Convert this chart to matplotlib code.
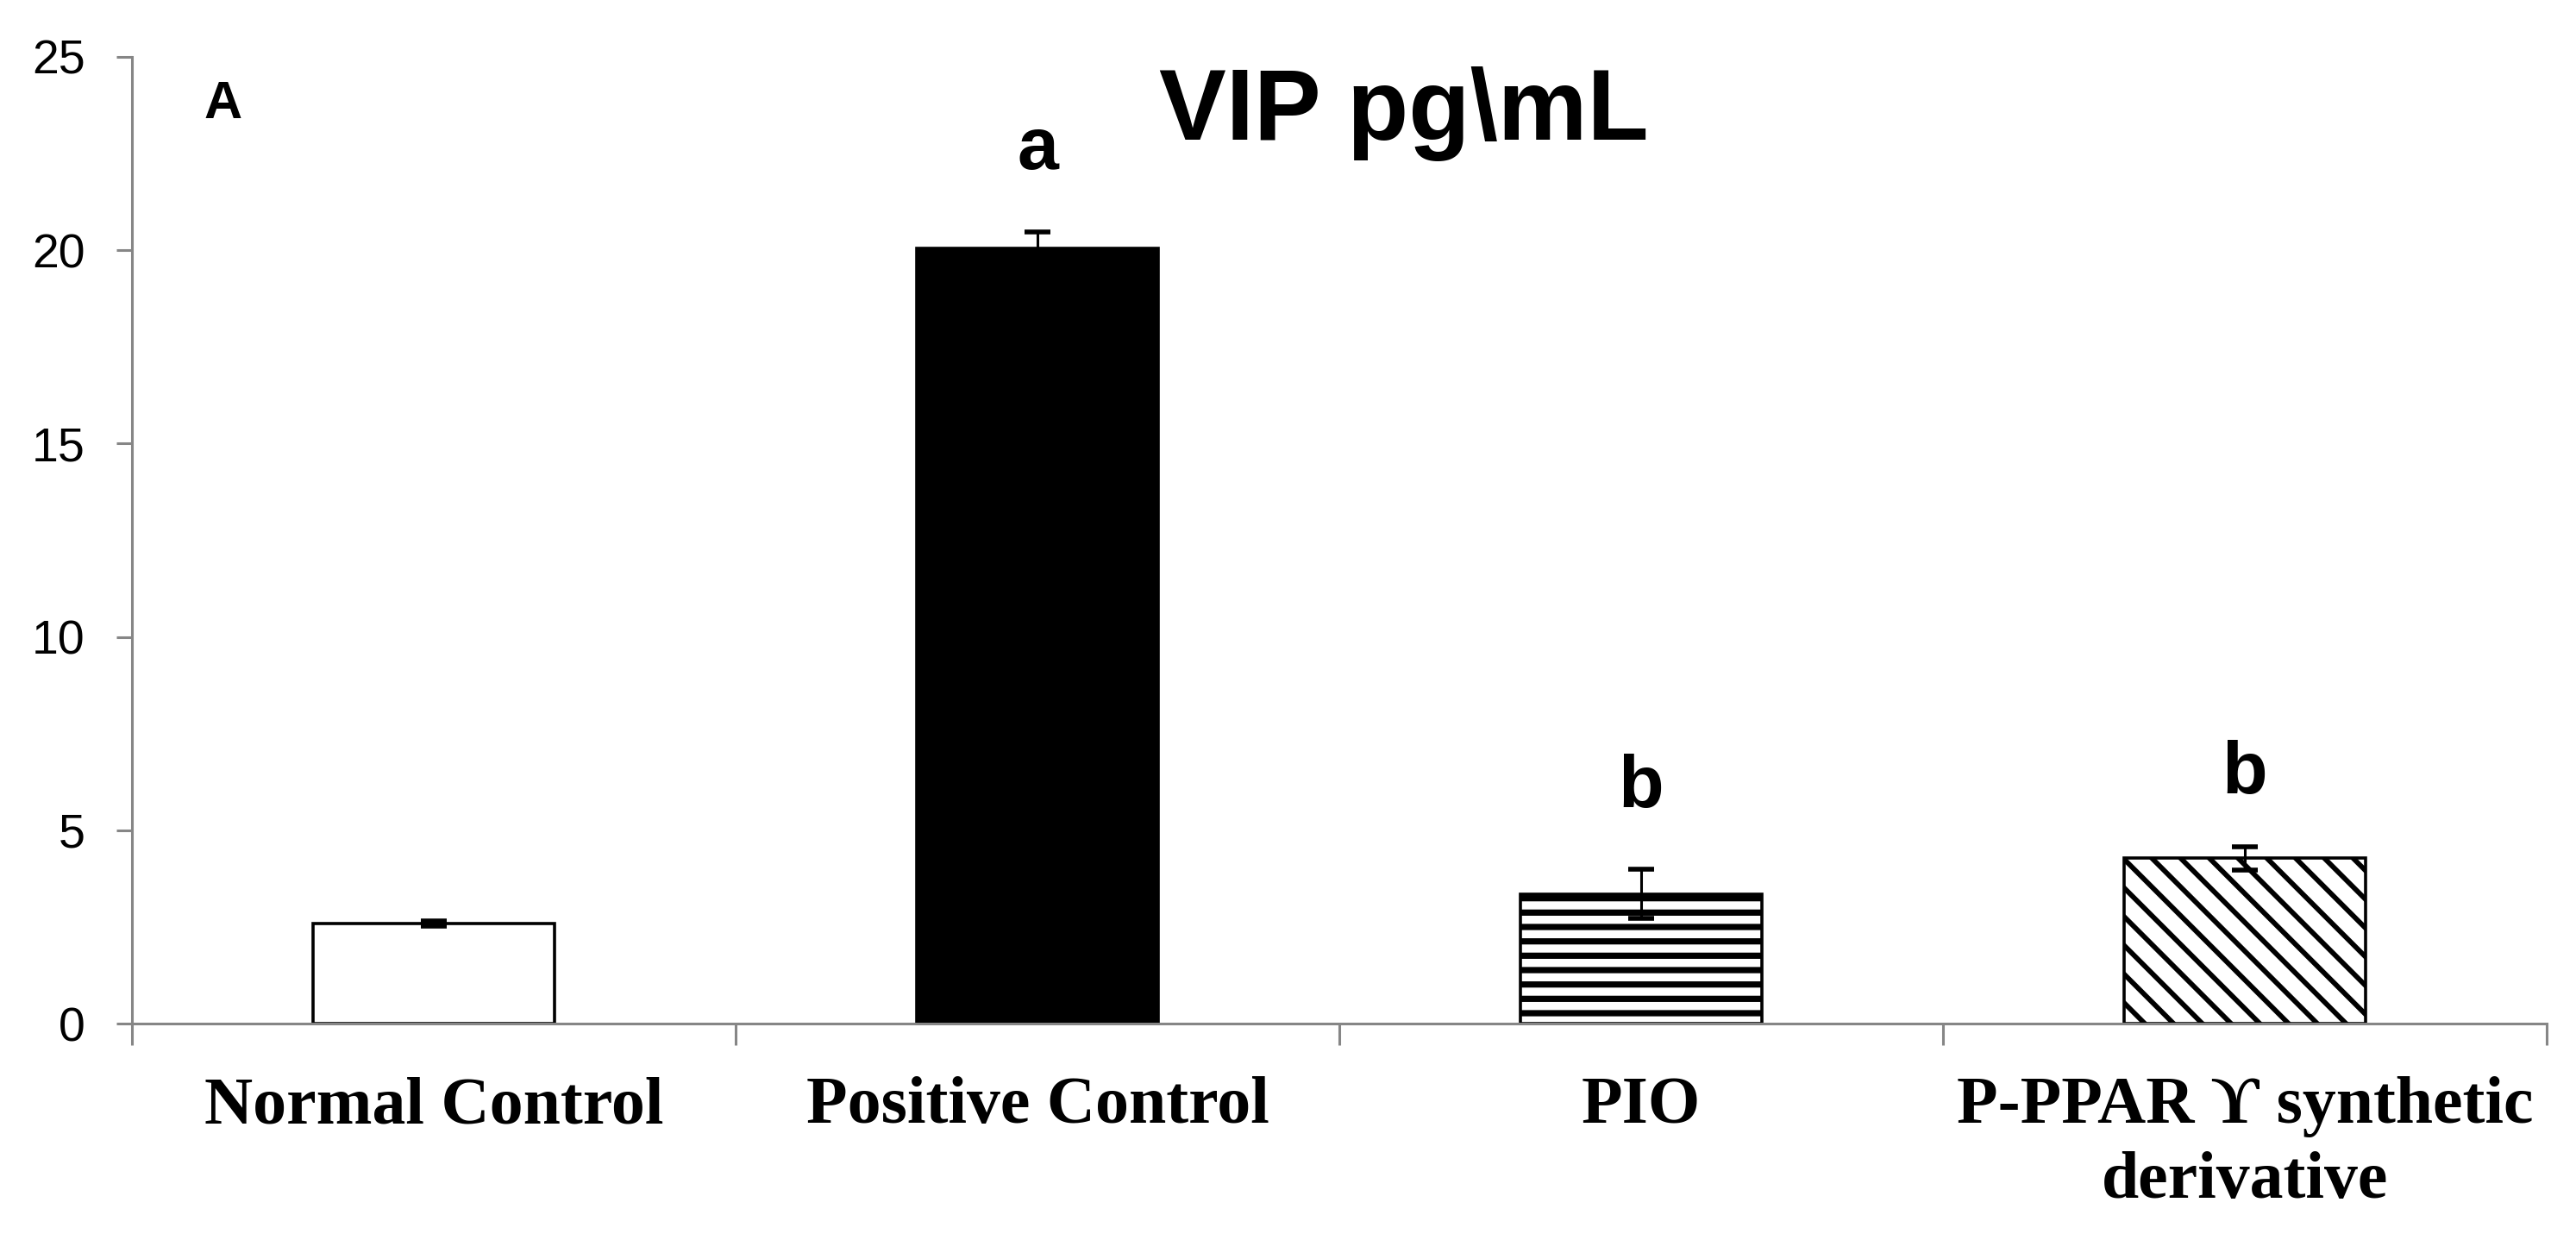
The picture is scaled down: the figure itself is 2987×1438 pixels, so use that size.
import numpy as np
import matplotlib.pyplot as plt
import matplotlib as mpl

groups = ["Normal Control", "Positive Control", "PIO", "P-PPAR \u03d2 synthetic\nderivative"]
means = [2.58, 20.05, 3.35, 4.28]
errors = [0.07, 0.43, 0.64, 0.30]
sig_letters = ["", "a", "b", "b"]
letter_heights = [0, 22.1, 5.6, 5.95]
y_ticks = [0, 5, 10, 15, 20, 25]

fills = ["white", "black", "white", "white"]
hatches = [None, None, "--", "\\\\"]
hatch_lw = [1.0, 1.0, 2.6, 2.1]

narrow = ["Liberation Sans Narrow", "Liberation Sans", "DejaVu Sans"]
serif = ["Liberation Serif", "DejaVu Serif"]
grey = "#868686"

W, H = 2987, 1438
fig = plt.figure(figsize=(W / 200, H / 200), dpi=200)
ax = fig.add_axes([153 / W, 1 - 1187 / H, (2953 - 153) / W, (1187 - 66) / H])

x = np.arange(len(groups))
for i in range(len(groups)):
    with mpl.rc_context({"hatch.linewidth": hatch_lw[i], "hatch.color": "black"}):
        b = ax.bar(x[i], means[i], width=0.4, color=fills[i], edgecolor="black",
                   linewidth=1.3, hatch=hatches[i], zorder=2)
    for p in b:
        if hasattr(p, "set_hatch_linewidth"):
            p.set_hatch_linewidth(hatch_lw[i])

ax.errorbar(x, means, yerr=errors, fmt="none", ecolor="black", elinewidth=1.1,
            capsize=5.4, capthick=2.0, zorder=3)

for i, s in enumerate(sig_letters):
    if s:
        ax.text(x[i], letter_heights[i], s, ha="center", va="baseline",
                fontsize=31, fontweight="bold", family=narrow)

ax.set_xlim(-0.5, 3.5)
ax.set_ylim(0, 25)
ax.set_yticks(y_ticks)
ax.set_yticklabels([str(v) for v in y_ticks], family=narrow, fontsize=20)
ax.tick_params(axis="y", length=6.5, width=1.1, color=grey, pad=13)

ax.set_xticks(x)
ax.set_xticklabels(groups, family=serif, fontsize=28, fontweight="bold", linespacing=1.3)
ax.tick_params(axis="x", which="major", length=0, pad=22)
ax.set_xticks(np.arange(-0.5, 3.6, 1.0), minor=True)
ax.tick_params(axis="x", which="minor", length=9, width=1.1, color=grey)

for side in ["top", "right"]:
    ax.spines[side].set_visible(False)
for side in ["left", "bottom"]:
    ax.spines[side].set_color(grey)
    ax.spines[side].set_linewidth(1.1)

fig.text(1628 / W, 1 - 162 / H, "VIP pg\\mL", ha="center", va="baseline",
         fontsize=42, fontweight="bold", family=narrow)
fig.text(259 / W, 1 - 137 / H, "A", ha="center", va="baseline",
         fontsize=22, fontweight="bold", family=narrow)

fig.savefig("out.png", dpi=200)
